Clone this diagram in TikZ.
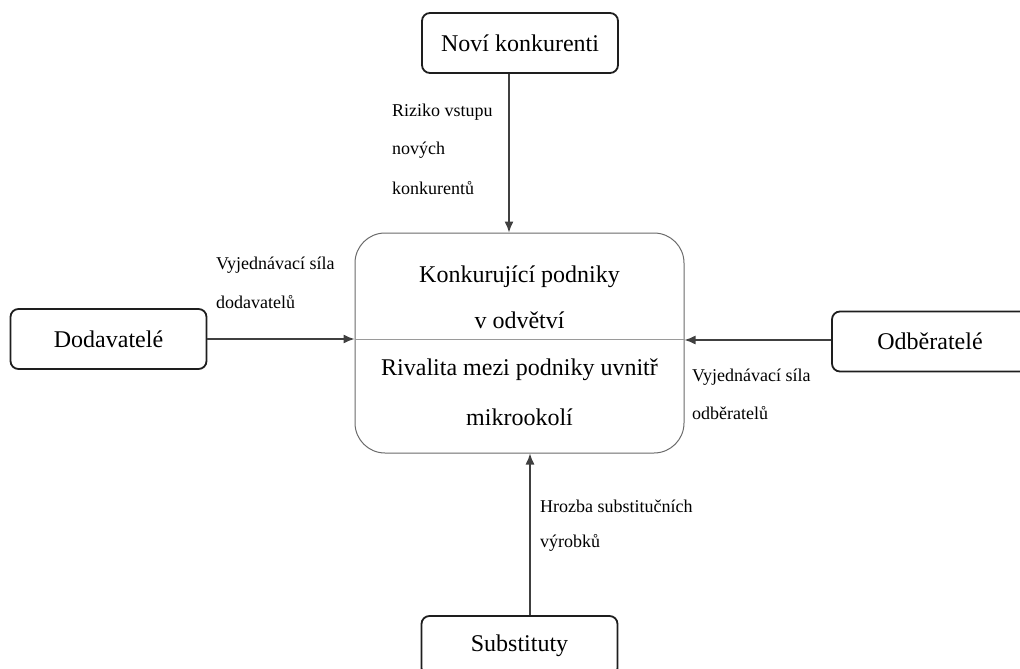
\documentclass[tikz,border=0pt]{standalone}
\usepackage{fontspec}
\setmainfont{Liberation Serif}
\usetikzlibrary{arrows.meta,calc}
\definecolor{boxline}{HTML}{1E1E1E}
\definecolor{arrline}{HTML}{404040}
\definecolor{midline}{HTML}{6A6A6A}
\definecolor{divline}{HTML}{9A9A9A}
\tikzset{
  outer/.style={draw=boxline, line width=1.8pt, rounded corners=8pt, minimum width=196pt, minimum height=60pt, inner sep=0pt, font=\fontsize{24}{28}\selectfont},
  midbox/.style={draw=midline, line width=1pt, rounded corners=30pt, minimum width=329pt, minimum height=220pt, inner sep=0pt},
  midtext/.style={font=\fontsize{24}{28}\selectfont, inner sep=0pt},
  lbl/.style={font=\fontsize{18}{22}\selectfont, inner sep=0pt, anchor=west},
  arr/.style={draw=arrline, line width=1.3pt, -{Latex[length=11pt,width=9pt]}}
}
\begin{document}
\begin{tikzpicture}[x=1pt,y=-1pt]
\useasboundingbox (0,0) rectangle (1020,669);
\clip (0,0) rectangle (1020,669);
% boxes
\node[outer] (top) at (520,43) {Noví konkurenti};
\node[outer] (left) at (108.5,339) {Dodavatelé};
\node[outer] (right) at (930,341.5) {Odběratelé};
\node[outer] (bot) at (519.5,646) {Substituty};
\node[midbox] (mid) at (519.5,343) {};
\draw[divline, line width=1pt] (mid.west |- 0,339) -- (mid.east |- 0,339);
% center texts
\node[midtext] (t1) at (519.5,277) {Konkurující podniky};
\node[midtext] (t2) at (519.5,320) {v odvětví};
\node[midtext] (t3) at (519.5,370) {Rivalita mezi podniky uvnitř};
\node[midtext] (t4) at (519.5,417) {mikrookolí};
% arrows
\draw[arr] (509,0 |- top.south) -- (509,0 |- mid.north);
\draw[arr] (left.east |- 0,339) -- (mid.west |- 0,339);
\draw[arr] (right.west |- 0,340) -- (mid.east |- 0,340);
\draw[arr] (530,0 |- bot.north) -- (530,0 |- mid.south);
% labels
\node[lbl] (l1a) at (392,112) {Riziko vstupu};
\node[lbl] (l1b) at (392,150) {nových};
\node[lbl] (l1c) at (392,188) {konkurentů};
\node[lbl] (l2a) at (216,265) {Vyjednávací síla};
\node[lbl] (l2b) at (216,302) {dodavatelů};
\node[lbl] (l3a) at (692,377) {Vyjednávací síla};
\node[lbl] (l3b) at (692,413) {odběratelů};
\node[lbl] (l4a) at (540,506) {Hrozba substitučních};
\node[lbl] (l4b) at (540,543) {výrobků};
\end{tikzpicture}
\end{document}
